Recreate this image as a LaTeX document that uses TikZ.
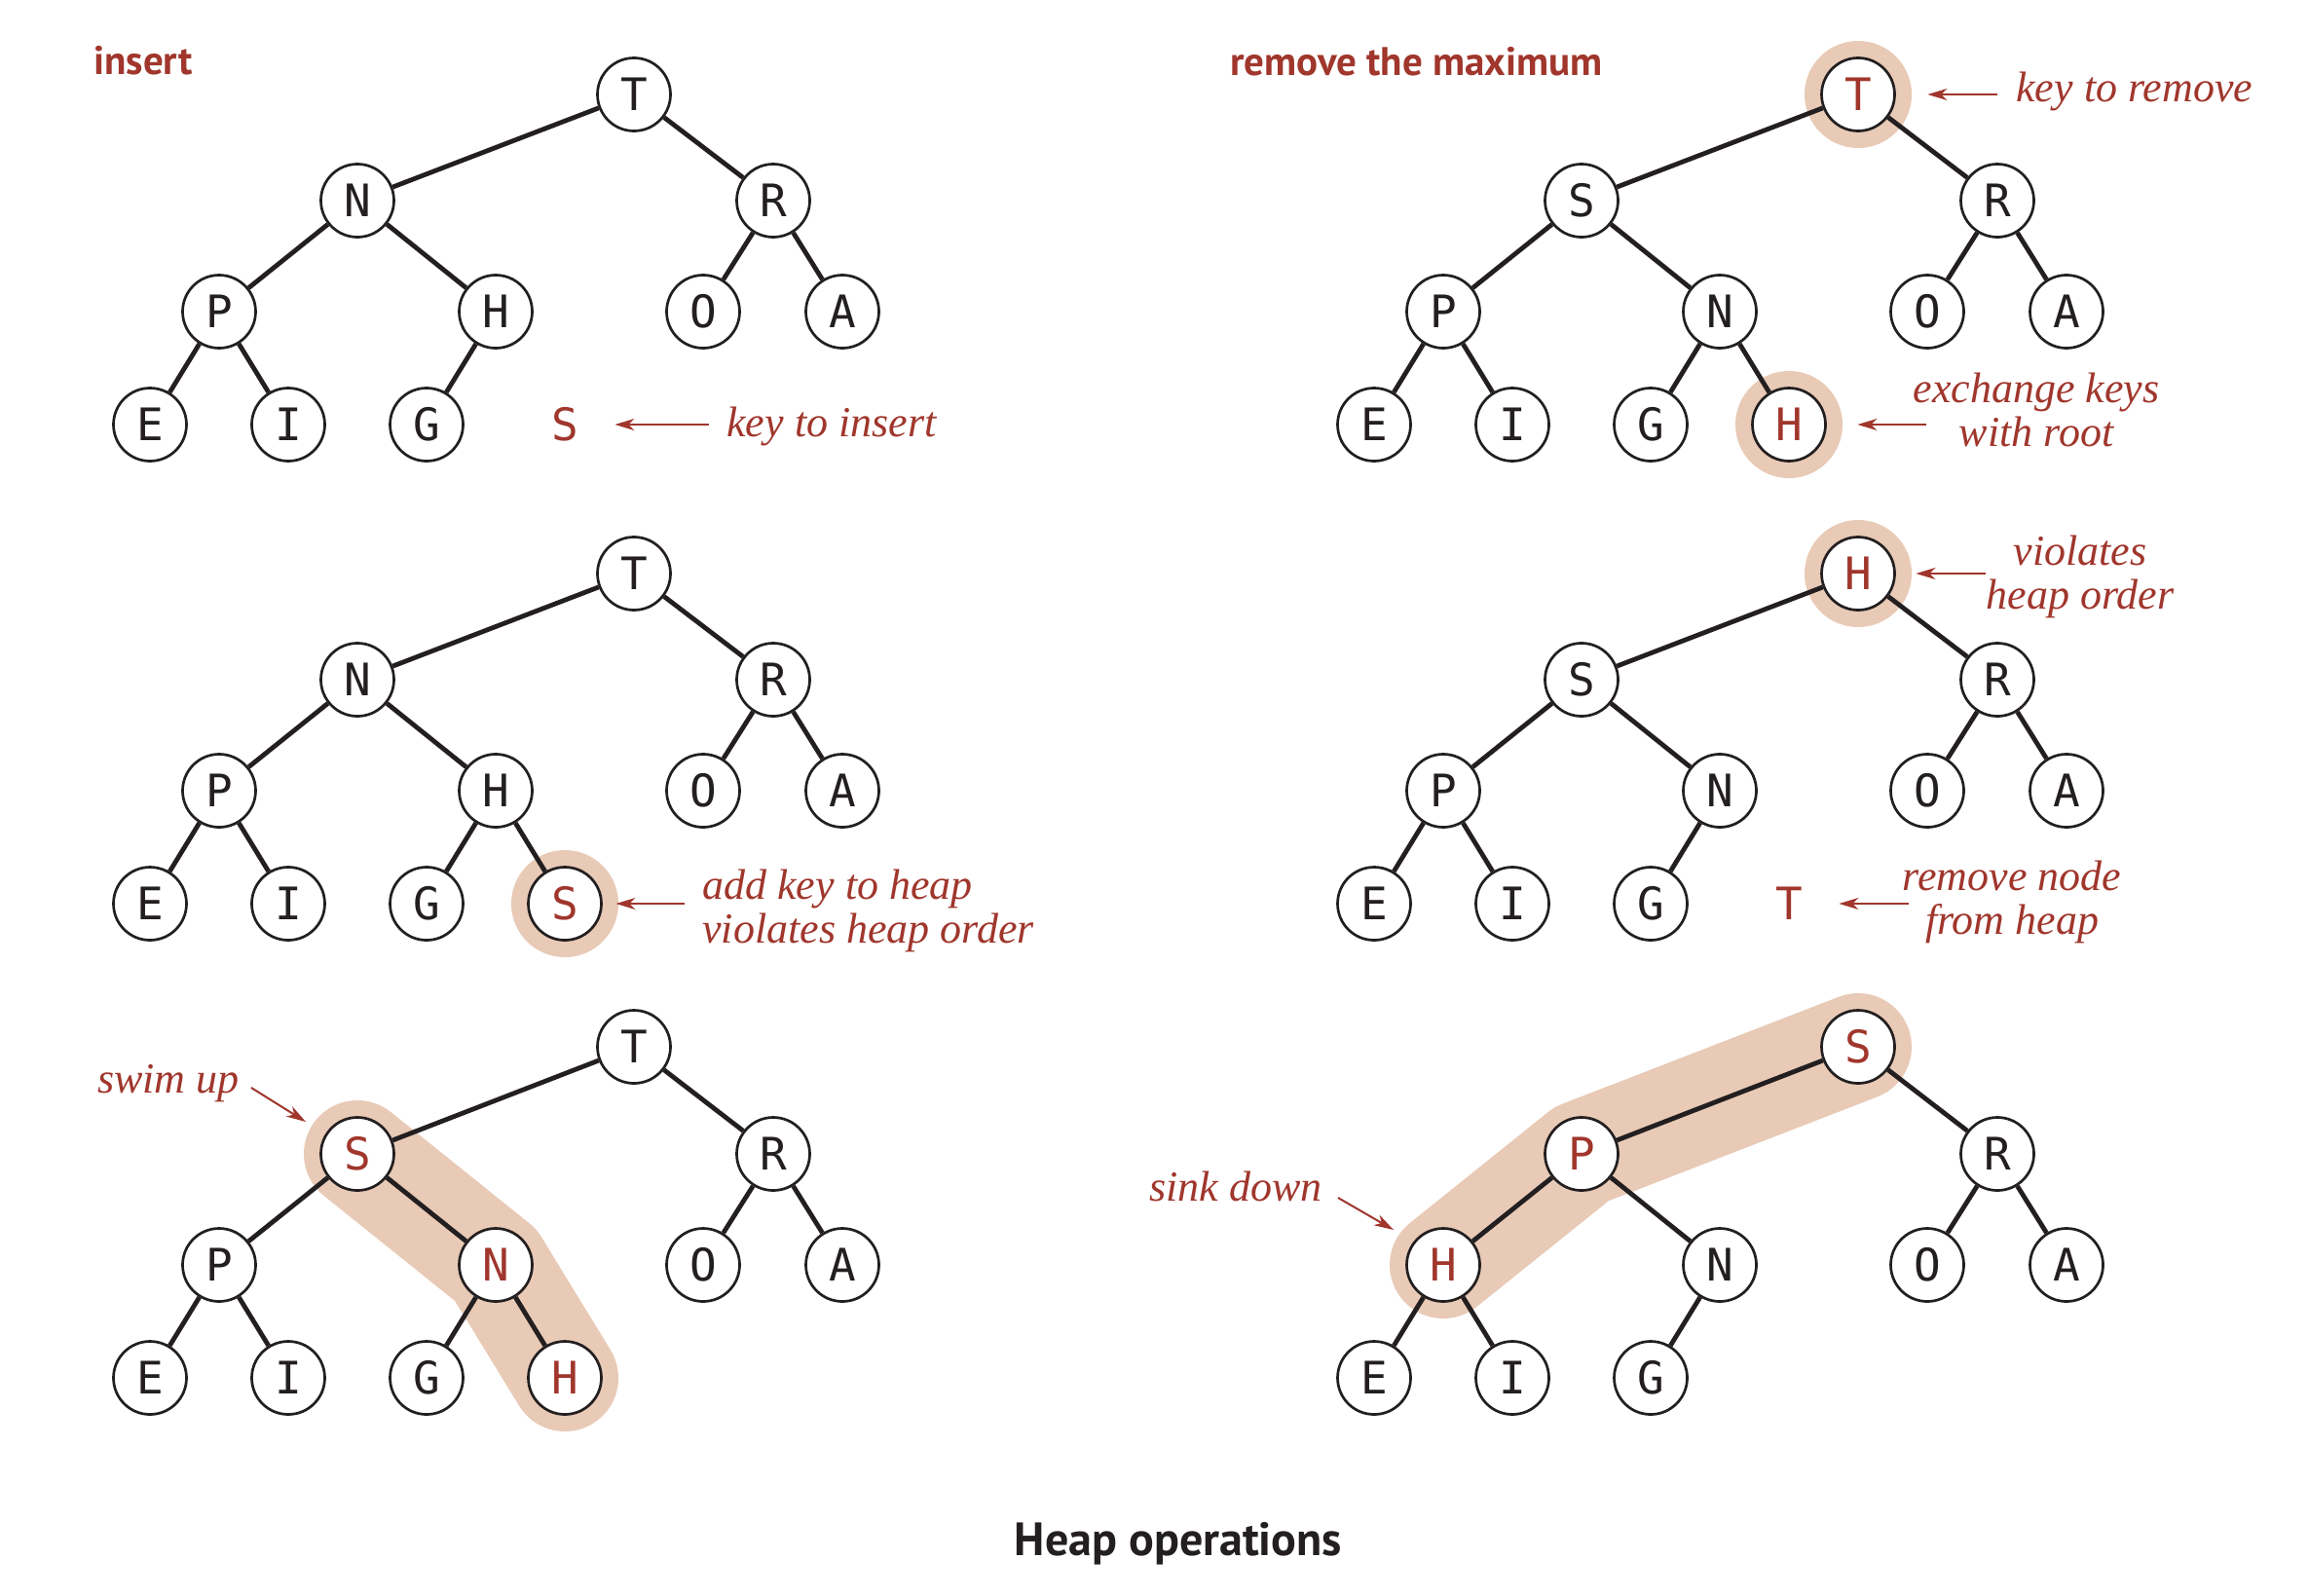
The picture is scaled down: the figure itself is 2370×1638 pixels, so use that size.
\documentclass[tikz,border=0pt]{standalone}
\usepackage{fontspec}
\setmainfont{Liberation Serif}
\newfontfamily\keyfont{DejaVu Sans Mono}
\newfontfamily\headfont{PT Sans}
\usetikzlibrary{arrows.meta,calc}
\pgfdeclarelayer{background}
\pgfsetlayers{background,main}
\definecolor{notered}{RGB}{160,54,44}
\definecolor{peach}{RGB}{232,202,182}
\definecolor{ink}{RGB}{35,31,32}
\tikzset{
  key/.style={circle, draw=ink, line width=1.35pt, fill=white, minimum size=37.5pt,
    inner sep=0pt, font=\keyfont\fontsize{23}{23}\selectfont, text=ink},
  hot/.style={key, text=notered},
  loose/.style={circle, minimum size=37.5pt, inner sep=0pt,
    font=\keyfont\fontsize{23}{23}\selectfont, text=notered},
  link/.style={draw=ink, line width=2.4pt},
  halo/.style={circle, fill=peach, minimum size=55pt, inner sep=0pt},
  band/.style={draw=peach, line width=55pt, line cap=round, line join=round},
  note/.style={font=\itshape\fontsize{22}{22.5}\selectfont, text=notered, inner sep=0pt},
  pointer/.style={draw=notered, line width=1pt, -{Stealth[length=10pt,width=6pt,inset=3pt]}},
  head/.style={font=\headfont\bfseries\fontsize{20.5}{24}\selectfont, text=notered, inner sep=0pt},
  caption/.style={font=\headfont\bfseries\fontsize{24}{28}\selectfont, text=ink, inner sep=0pt},
}
\begin{document}
\begin{tikzpicture}[x=0.5pt, y=-0.5pt]
\begin{pgfonlayer}{background}
  \fill[white] (0,0) rectangle (2370,1638);
\end{pgfonlayer}
\useasboundingbox (0,0) rectangle (2370,1638);

% ---------------- insert: new key beside the heap ----------------
\node[head, anchor=base west] (a-title) at (96,76) {insert};
\node[key] (a-T) at (651,97) {T};
\node[key] (a-N) at (367,206) {N};
\node[key] (a-R) at (794,206) {R};
\node[key] (a-P) at (225,320) {P};
\node[key] (a-H) at (509,320) {H};
\node[key] (a-O) at (722,320) {O};
\node[key] (a-A) at (865,320) {A};
\node[key] (a-E) at (154,436) {E};
\node[key] (a-I) at (296,436) {I};
\node[key] (a-G) at (438,436) {G};
\node[loose] (a-S) at (580,436) {S};
\foreach \u/\v in {T/N,T/R,N/P,N/H,R/O,R/A,P/E,P/I,H/G}
  \draw[link] (a-\u) -- (a-\v);
\node[note, anchor=base west] (a-note) at (746,448) {key to insert};
\draw[pointer] ($(a-S.east)+(110,0)$) -- ($(a-S.east)+(13.5,0)$);

% ---------------- insert: key added at the bottom ----------------
\node[key] (b-T) at (651,589) {T};
\node[key] (b-N) at (367,698) {N};
\node[key] (b-R) at (794,698) {R};
\node[key] (b-P) at (225,812) {P};
\node[key] (b-H) at (509,812) {H};
\node[key] (b-O) at (722,812) {O};
\node[key] (b-A) at (865,812) {A};
\node[key] (b-E) at (154,928) {E};
\node[key] (b-I) at (296,928) {I};
\node[key] (b-G) at (438,928) {G};
\node[hot] (b-S) at (580,928) {S};
\begin{pgfonlayer}{background}
  \node[halo] (b-halo) at (b-S) {};
\end{pgfonlayer}
\foreach \u/\v in {T/N,T/R,N/P,N/H,R/O,R/A,P/E,P/I,H/G,H/S}
  \draw[link] (b-\u) -- (b-\v);
\node[note, anchor=west, align=left] (b-note) at (721,935)
  {add key to heap\\violates heap order};
\draw[pointer] ($(b-halo.east)+(68,0)$) -- ($(b-halo.east)+(-3,0)$);

% ---------------- insert: swim up ----------------
\node[key] (c-T) at (651,1075) {T};
\node[hot] (c-S) at (367,1185) {S};
\node[key] (c-R) at (794,1185) {R};
\node[key] (c-P) at (225,1299) {P};
\node[hot] (c-N) at (509,1299) {N};
\node[key] (c-O) at (722,1299) {O};
\node[key] (c-A) at (865,1299) {A};
\node[key] (c-E) at (154,1415) {E};
\node[key] (c-I) at (296,1415) {I};
\node[key] (c-G) at (438,1415) {G};
\node[hot] (c-H) at (580,1415) {H};
\begin{pgfonlayer}{background}
  \draw[band] (c-S.center) -- (c-N.center) -- (c-H.center);
\end{pgfonlayer}
\foreach \u/\v in {T/S,T/R,S/P,S/N,R/O,R/A,P/E,P/I,N/G,N/H}
  \draw[link] (c-\u) -- (c-\v);
\node[note, anchor=base east] (c-note) at (246,1122) {swim up};
\draw[pointer] ($(c-S)+(-109,-68)$) -- ($(c-S)+(-53,-33)$);

% ---------------- remove the maximum: root and last key ----------------
\node[head, anchor=base west] (d-title) at (1263,77) {remove the maximum};
\node[hot] (d-T) at (1908,97) {T};
\node[key] (d-S) at (1624,206) {S};
\node[key] (d-R) at (2051,206) {R};
\node[key] (d-P) at (1482,320) {P};
\node[key] (d-N) at (1766,320) {N};
\node[key] (d-O) at (1979,320) {O};
\node[key] (d-A) at (2122,320) {A};
\node[key] (d-E) at (1411,436) {E};
\node[key] (d-I) at (1553,436) {I};
\node[key] (d-G) at (1695,436) {G};
\node[hot] (d-H) at (1837,436) {H};
\begin{pgfonlayer}{background}
  \node[halo] (d-Thalo) at (d-T) {};
  \node[halo] (d-Hhalo) at (d-H) {};
\end{pgfonlayer}
\foreach \u/\v in {T/S,T/R,S/P,S/N,R/O,R/A,P/E,P/I,N/G,N/H}
  \draw[link] (d-\u) -- (d-\v);
\node[note, anchor=base west] (d-note) at (2070,104) {key to remove};
\draw[pointer] ($(d-Thalo.east)+(88,0)$) -- ($(d-Thalo.east)+(16,0)$);
\node[note, align=center] (d-swap) at (2091,421) {exchange keys\\with root};
\draw[pointer] ($(d-Hhalo.east)+(86,0)$) -- ($(d-Hhalo.east)+(15,0)$);

% ---------------- remove the maximum: old root taken out ----------------
\node[hot] (e-H) at (1908,589) {H};
\node[key] (e-S) at (1624,698) {S};
\node[key] (e-R) at (2051,698) {R};
\node[key] (e-P) at (1482,812) {P};
\node[key] (e-N) at (1766,812) {N};
\node[key] (e-O) at (1979,812) {O};
\node[key] (e-A) at (2122,812) {A};
\node[key] (e-E) at (1411,928) {E};
\node[key] (e-I) at (1553,928) {I};
\node[key] (e-G) at (1695,928) {G};
\node[loose] (e-T) at (1837,928) {T};
\begin{pgfonlayer}{background}
  \node[halo] (e-halo) at (e-H) {};
\end{pgfonlayer}
\foreach \u/\v in {H/S,H/R,S/P,S/N,R/O,R/A,P/E,P/I,N/G}
  \draw[link] (e-\u) -- (e-\v);
\node[note, align=center] (e-note) at (2136,592) {violates\\heap order};
\draw[pointer] ($(e-halo.east)+(76,0)$) -- ($(e-halo.east)+(4,0)$);
\node[note, align=center] (e-gone) at (2066,926) {remove node\\from heap};
\draw[pointer] ($(e-T.east)+(85.5,0)$) -- ($(e-T.east)+(13.5,0)$);

% ---------------- remove the maximum: sink down ----------------
\node[hot] (f-S) at (1908,1075) {S};
\node[hot] (f-P) at (1624,1185) {P};
\node[key] (f-R) at (2051,1185) {R};
\node[hot] (f-H) at (1482,1299) {H};
\node[key] (f-N) at (1766,1299) {N};
\node[key] (f-O) at (1979,1299) {O};
\node[key] (f-A) at (2122,1299) {A};
\node[key] (f-E) at (1411,1415) {E};
\node[key] (f-I) at (1553,1415) {I};
\node[key] (f-G) at (1695,1415) {G};
\begin{pgfonlayer}{background}
  \draw[band] (f-H.center) -- (f-P.center) -- (f-S.center);
\end{pgfonlayer}
\foreach \u/\v in {S/P,S/R,P/H,P/N,R/O,R/A,H/E,H/I,N/G}
  \draw[link] (f-\u) -- (f-\v);
\node[note, anchor=base east] (f-note) at (1358,1233) {sink down};
\draw[pointer] ($(f-H)+(-108,-69)$) -- ($(f-H)+(-51,-36)$);

% ---------------- caption ----------------
\node[caption, anchor=base] (caption) at (1210,1597) {Heap operations};
\end{tikzpicture}
\end{document}
